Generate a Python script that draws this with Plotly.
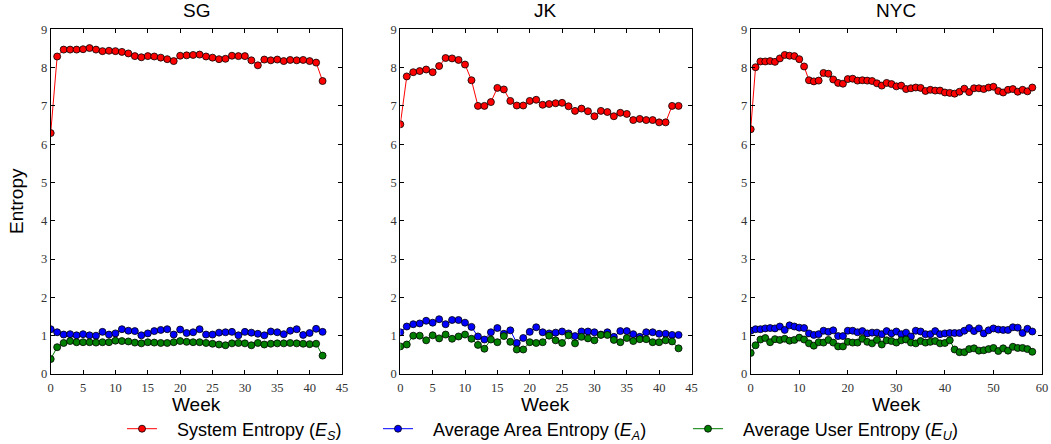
import plotly.graph_objects as go

# ---------------- data ----------------
sg_system = [6.29, 8.29, 8.47, 8.47, 8.47, 8.48, 8.51, 8.47, 8.43, 8.44, 8.43, 8.41, 8.37, 8.30, 8.27,
             8.30, 8.29, 8.26, 8.22, 8.17, 8.31, 8.32, 8.33, 8.34, 8.29, 8.26, 8.22, 8.23, 8.31, 8.30,
             8.30, 8.19, 8.06, 8.21, 8.19, 8.21, 8.17, 8.20, 8.19, 8.20, 8.17, 8.13, 7.65]
sg_area = [1.17, 1.09, 1.03, 1.04, 1.01, 1.04, 1.01, 1.00, 1.10, 1.03, 1.06, 1.17, 1.13, 1.12, 1.01,
           1.06, 1.12, 1.15, 1.17, 1.03, 1.16, 1.07, 1.09, 1.17, 1.03, 1.03, 1.08, 1.09, 1.10, 1.01,
           1.10, 1.08, 1.05, 1.01, 1.11, 1.09, 1.04, 1.13, 1.17, 1.02, 1.07, 1.18, 1.10]
sg_user = [0.39, 0.70, 0.81, 0.86, 0.83, 0.83, 0.83, 0.82, 0.83, 0.83, 0.87, 0.86, 0.85, 0.82, 0.80,
           0.83, 0.82, 0.81, 0.81, 0.83, 0.86, 0.84, 0.83, 0.83, 0.81, 0.79, 0.77, 0.75, 0.80, 0.81,
           0.80, 0.75, 0.81, 0.77, 0.79, 0.80, 0.80, 0.81, 0.80, 0.79, 0.78, 0.79, 0.48]

jk_system = [6.52, 7.77, 7.88, 7.91, 7.95, 7.88, 8.04, 8.25, 8.24, 8.20, 8.08, 7.67, 7.00, 7.00, 7.10,
             7.47, 7.43, 7.13, 7.01, 7.01, 7.13, 7.16, 7.03, 7.05, 7.07, 7.08, 6.99, 6.87, 6.93, 6.86,
             6.73, 6.87, 6.84, 6.73, 6.82, 6.79, 6.63, 6.66, 6.63, 6.63, 6.57, 6.57, 7.00, 7.00]
jk_area = [1.09, 1.24, 1.30, 1.32, 1.39, 1.34, 1.43, 1.30, 1.41, 1.41, 1.34, 1.23, 0.98, 0.90, 1.09,
           1.20, 1.05, 1.14, 0.81, 0.94, 1.10, 1.22, 1.09, 1.06, 1.08, 1.11, 1.06, 0.99, 1.11, 1.11,
           1.09, 1.03, 1.09, 0.97, 1.12, 1.12, 1.04, 0.97, 1.09, 1.09, 1.05, 1.05, 1.02, 1.02]
jk_user = [0.72, 0.77, 1.00, 1.00, 0.88, 1.01, 0.93, 1.03, 0.92, 0.98, 1.03, 0.92, 0.76, 0.66, 0.90,
           0.83, 0.99, 0.84, 0.64, 0.64, 0.83, 0.81, 0.83, 1.00, 0.88, 0.81, 1.01, 0.80, 0.97, 0.93,
           0.88, 1.02, 1.02, 0.89, 0.83, 0.94, 0.86, 0.91, 0.91, 0.83, 0.83, 0.88, 0.85, 0.67]

nyc_system = [6.39, 8.01, 8.16, 8.16, 8.17, 8.15, 8.24, 8.33, 8.31, 8.30, 8.22, 8.03, 7.67, 7.64, 7.66,
              7.86, 7.84, 7.69, 7.60, 7.58, 7.70, 7.71, 7.66, 7.67, 7.66, 7.65, 7.59, 7.53, 7.60, 7.57,
              7.51, 7.53, 7.44, 7.46, 7.48, 7.47, 7.39, 7.42, 7.40, 7.40, 7.35, 7.34, 7.32, 7.37, 7.45,
              7.36, 7.46, 7.46, 7.44, 7.48, 7.50, 7.39, 7.35, 7.42, 7.44, 7.37, 7.42, 7.38, 7.48]
nyc_area = [1.13, 1.17, 1.17, 1.19, 1.20, 1.19, 1.24, 1.15, 1.27, 1.24, 1.21, 1.20, 1.06, 1.02, 1.04,
            1.13, 1.10, 1.14, 0.99, 0.99, 1.13, 1.13, 1.09, 1.12, 1.06, 1.08, 1.08, 1.04, 1.12, 1.06,
            1.11, 1.04, 1.08, 0.98, 1.13, 1.11, 1.04, 1.04, 1.12, 1.04, 1.06, 1.07, 1.07, 1.07, 1.13,
            1.20, 1.12, 1.19, 1.06, 1.14, 1.19, 1.16, 1.15, 1.15, 1.22, 1.21, 1.07, 1.18, 1.11]
nyc_user = [0.55, 0.75, 0.90, 0.94, 0.83, 0.91, 0.89, 0.92, 0.87, 0.89, 0.95, 0.90, 0.80, 0.74, 0.83,
            0.82, 0.89, 0.82, 0.72, 0.72, 0.84, 0.82, 0.82, 0.92, 0.84, 0.80, 0.89, 0.77, 0.88, 0.86,
            0.82, 0.88, 0.90, 0.82, 0.80, 0.86, 0.82, 0.84, 0.86, 0.80, 0.81, 0.88, 0.64, 0.57, 0.57,
            0.65, 0.67, 0.61, 0.62, 0.65, 0.68, 0.60, 0.67, 0.61, 0.71, 0.68, 0.68, 0.65, 0.58]

panel_titles = ["SG", "JK", "NYC"]
x_ranges = [[0, 45], [0, 45], [0, 60]]
x_dticks = [5, 5, 10]
series_names = ["&nbsp;&nbsp;&nbsp;System Entropy (<i>E</i><sub><i>S</i></sub>)",
                "&nbsp;&nbsp;&nbsp;Average Area Entropy (<i>E</i><sub><i>A</i></sub>)",
                "&nbsp;&nbsp;&nbsp;Average User Entropy (<i>E</i><sub><i>U</i></sub>)"]
series_colors = ["#ff0000", "#0000ff", "#007f00"]

panels = [(sg_system, sg_area, sg_user), (jk_system, jk_area, jk_user), (nyc_system, nyc_area, nyc_user)]

# ---------------- layout geometry ----------------
W, H = 1051, 444
x_domains = [[50.7 / W, 342 / W], [400.3 / W, 691.5 / W], [750.7 / W, 1042 / W]]
y_domain = [1 - 374 / H, 1 - 29.3 / H]

fig = go.Figure()
legend_ids = ["legend", "legend2", "legend3"]

for p, series in enumerate(panels):
    xa = "x" if p == 0 else f"x{p+1}"
    ya = "y" if p == 0 else f"y{p+1}"
    for s, vals in enumerate(series):
        fig.add_trace(go.Scatter(
            x=list(range(len(vals))), y=vals, mode="lines+markers",
            name=series_names[s],
            line=dict(color=series_colors[s], width=1),
            marker=dict(color=series_colors[s], size=7, line=dict(color="black", width=0.8)),
            xaxis=xa, yaxis=ya,
            showlegend=(p == 0), legend=legend_ids[s],
        ))

tick_font = dict(family="Liberation Serif, DejaVu Serif, serif", size=12.5, color="#333333")
axis_common = dict(showline=True, linecolor="black", linewidth=1, mirror="ticks",
                   ticks="inside", ticklen=4, tickcolor="black", showgrid=False,
                   zeroline=False, tickfont=tick_font, automargin=False)

layout = dict(width=W, height=H, margin=dict(l=0, r=0, t=0, b=0, autoexpand=False),
              plot_bgcolor="white", paper_bgcolor="white",
              font=dict(family="Liberation Sans, Arial, sans-serif", color="black"))

for p in range(3):
    xk = "xaxis" if p == 0 else f"xaxis{p+1}"
    yk = "yaxis" if p == 0 else f"yaxis{p+1}"
    ya = "y" if p == 0 else f"y{p+1}"
    xa = "x" if p == 0 else f"x{p+1}"
    layout[xk] = dict(axis_common, domain=x_domains[p], range=x_ranges[p],
                      tick0=0, dtick=x_dticks[p], anchor=ya, ticklabelstandoff=2)
    layout[yk] = dict(axis_common, domain=y_domain, range=[0, 9],
                      tick0=0, dtick=1, anchor=xa)

annotations = []
for p in range(3):
    cx = (x_domains[p][0] + x_domains[p][1]) / 2
    annotations.append(dict(text=panel_titles[p], x=cx, y=1 - 11 / H, xref="paper", yref="paper",
                            showarrow=False, font=dict(size=19), xanchor="center", yanchor="middle"))
    annotations.append(dict(text="Week", x=cx, y=1 - 404 / H, xref="paper", yref="paper",
                            showarrow=False, font=dict(size=19), xanchor="center", yanchor="middle"))
annotations.append(dict(text="Entropy", x=17 / W, y=1 - 201 / H, xref="paper", yref="paper",
                        showarrow=False, font=dict(size=19), textangle=-90,
                        xanchor="center", yanchor="middle"))
layout["annotations"] = annotations

legend_x = [122, 378, 688]
for i, lid in enumerate(legend_ids):
    layout[lid] = dict(x=legend_x[i] / W, y=1 - 429 / H, xanchor="left", yanchor="middle",
                       orientation="h", bgcolor="rgba(0,0,0,0)",
                       font=dict(size=18, family="Liberation Sans, Arial, sans-serif"))

fig.update_layout(**layout)
fig.write_html("out.html")
